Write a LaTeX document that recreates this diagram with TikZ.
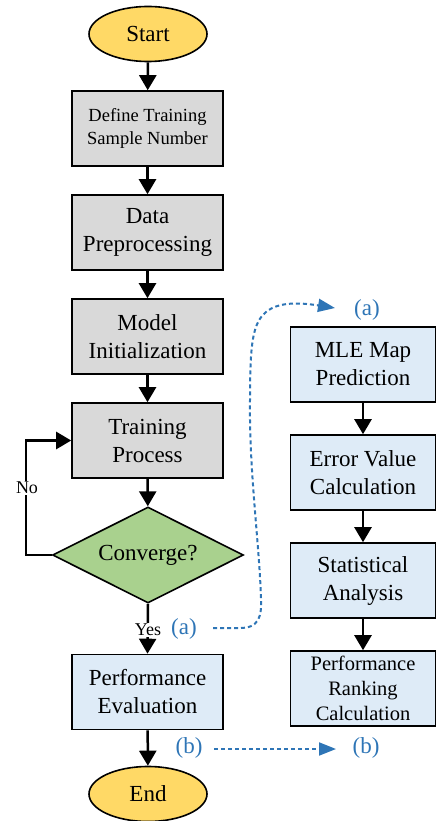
\documentclass[tikz,border=0pt]{standalone}
\usepackage{fontspec}
\setmainfont{Liberation Serif}
\usetikzlibrary{arrows.meta,shapes.geometric}
\definecolor{startyellow}{HTML}{FFD966}
\definecolor{boxgray}{HTML}{D9D9D9}
\definecolor{decgreen}{HTML}{A9D18E}
\definecolor{boxblue}{HTML}{DEEBF7}
\definecolor{linkblue}{HTML}{2E75B6}
\tikzset{
  terminal/.style={ellipse, draw=black, line width=1.6pt, fill=startyellow,
    minimum width=118pt, minimum height=55pt, inner sep=0pt,
    font=\fontsize{23}{28}\selectfont},
  graybox/.style={rectangle, draw=black, line width=1.6pt, fill=boxgray,
    minimum width=151pt, minimum height=75pt, inner sep=0pt, align=center,
    font=\fontsize{23}{28}\selectfont},
  bluebox/.style={graybox, fill=boxblue},
  sidebox/.style={bluebox, minimum width=145pt},
  decision/.style={diamond, draw=black, line width=1.6pt, fill=decgreen,
    minimum width=191pt, minimum height=96pt, inner sep=0pt, aspect=2,
    font=\fontsize{23}{28}\selectfont},
  flow/.style={line width=2.5pt, -{Triangle[width=17pt,length=15pt]}},
  link/.style={line width=2pt, linkblue, dash pattern=on 4pt off 3pt,
    -{Triangle[width=13pt,length=17pt]}},
  tag/.style={text=linkblue, font=\fontsize{23}{26}\selectfont, inner sep=1pt},
  branch/.style={fill=white, font=\fontsize{18}{20}\selectfont, inner sep=1.5pt}
}
\begin{document}
\begin{tikzpicture}[x=1pt,y=-1pt]
\useasboundingbox (0,0) rectangle (436,821);

% main column
\node[terminal] (start) at (148,34) {Start};
\node[graybox, font=\fontsize{18.5}{23}\selectfont] (define) at (147.5,128.5) {Define Training\\Sample Number};
\node[graybox] (prep) at (147.5,232.5) {Data\\Preprocessing};
\node[graybox] (init) at (147.5,336.5) {Model\\Initialization};
\node[graybox] (train) at (147.5,440.5) {Training\\Process};
\node[decision] (conv) at (148,555) {Converge?};
\node[bluebox] (eval) at (147.5,692) {Performance\\Evaluation};
\node[terminal] (end) at (148,794) {End};

% side column
\node[sidebox] (mle) at (363,364.5) {MLE Map\\Prediction};
\node[sidebox] (err) at (363,472.5) {Error Value\\Calculation};
\node[sidebox] (stat) at (363,580.5) {Statistical\\Analysis};
\node[sidebox, font=\fontsize{20.5}{25}\selectfont] (rank) at (363,688.5) {Performance\\Ranking\\Calculation};

% main flow
\draw[flow] (start) -- (define);
\draw[flow] (define) -- (prep);
\draw[flow] (prep) -- (init);
\draw[flow] (init) -- (train);
\draw[flow] (train) -- (conv);
\draw[flow] (conv.west) -- (26,555) -- (26,440.5) -- (train.west);
\node[branch] (no) at (27,488) {No};
\draw[flow] (conv.south) -- (eval.north);
\node[branch] (yes) at (148,630) {Yes};
\draw[flow] (eval) -- (end);

% side flow
\draw[flow] (mle) -- (err);
\draw[flow] (err) -- (stat);
\draw[flow] (stat) -- (rank);

% cross references
\node[tag] (aleft) at (184,629) {(a)};
\node[tag] (aright) at (367,310) {(a)};
\node[tag] (bleft) at (189,748) {(b)};
\node[tag] (bright) at (366,748) {(b)};
\coordinate (afrom) at (213,628);
\coordinate (ato) at (335,308);
\coordinate (bfrom) at (214,749);
\coordinate (bto) at (336,749);
\draw[link] (afrom) -- (240,628) .. controls (258,628) and (262,618) .. (261,598)
  .. controls (259,540) and (249,470) .. (250,400)
  .. controls (250,350) and (252,328) .. (262,316)
  .. controls (272,304) and (290,301) .. (ato);
\draw[link] (bfrom) -- (bto);
\end{tikzpicture}
\end{document}
